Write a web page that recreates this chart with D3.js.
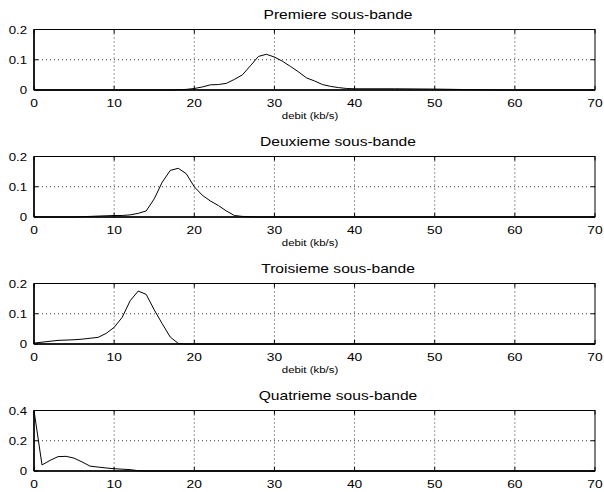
<!DOCTYPE html>
<html>
<head>
<meta charset="utf-8">
<script src="https://cdn.jsdelivr.net/npm/d3@7"></script>
<style>
  body { margin: 0; background: #fff; }
  svg { display: block; font-family: "Liberation Sans", Arial, Helvetica, sans-serif; }
  .grid line { stroke: #000; stroke-width: 0.8; stroke-dasharray: 1 3; }
</style>
</head>
<body>
<div id="chart"></div>
<script>
const titles = ["Premiere sous-bande", "Deuxieme sous-bande", "Troisieme sous-bande", "Quatrieme sous-bande"];
const xLabel = "debit (kb/s)";
const xTicks = [0, 10, 20, 30, 40, 50, 60, 70];
const yMaxes = [0.2, 0.2, 0.2, 0.4];
const yTickSets = [[0, 0.1, 0.2], [0, 0.1, 0.2], [0, 0.1, 0.2], [0, 0.2, 0.4]];

const band1X = [0, 17, 18, 19, 20, 21, 22, 23, 24, 25, 26, 27, 28, 29, 30, 31, 32, 33, 34, 35, 36, 37, 38, 39, 40, 45, 50, 55, 60, 70];
const band1Y = [0, 0, 0.001, 0.002, 0.005, 0.01, 0.017, 0.018, 0.022, 0.035, 0.05, 0.08, 0.111, 0.118, 0.109, 0.095, 0.078, 0.06, 0.04, 0.03, 0.018, 0.012, 0.008, 0.005, 0.004, 0.004, 0.003, 0.001, 0, 0];

const band2X = [0, 5, 6, 7, 8, 9, 10, 11, 12, 13, 14, 15, 16, 17, 18, 19, 20, 21, 22, 23, 24, 25, 26, 27, 28, 70];
const band2Y = [0, 0, 0.001, 0.002, 0.003, 0.004, 0.005, 0.005, 0.007, 0.012, 0.02, 0.06, 0.115, 0.154, 0.161, 0.143, 0.1, 0.072, 0.053, 0.038, 0.02, 0.005, 0.002, 0.001, 0, 0];

const band3X = [0, 1, 2, 3, 4, 5, 6, 7, 8, 9, 10, 11, 12, 13, 14, 15, 16, 17, 18, 19, 70];
const band3Y = [0.003, 0.006, 0.009, 0.012, 0.013, 0.014, 0.016, 0.019, 0.022, 0.035, 0.055, 0.088, 0.143, 0.175, 0.164, 0.113, 0.067, 0.023, 0.002, 0, 0];

const band4X = [0, 1, 2, 3, 4, 5, 6, 7, 8, 9, 10, 11, 12, 13, 14, 70];
const band4Y = [0.4, 0.04, 0.07, 0.095, 0.097, 0.085, 0.06, 0.032, 0.026, 0.02, 0.015, 0.012, 0.009, 0.002, 0, 0];

const bands = [
  { x: band1X, y: band1Y },
  { x: band2X, y: band2Y },
  { x: band3X, y: band3Y },
  { x: band4X, y: band4Y }
];

const width = 604;
const height = 492;
const left = 34;
const right = 595;
const firstTop = 29.5;
const panelStep = 127;
const panelHeight = 60.5;
const tickLen = 4;
// the picture is a bit stretched sideways, text too
const stretch = 1.2;

const svg = d3.select("#chart").append("svg")
  .attr("width", width)
  .attr("height", height);

svg.append("rect")
  .attr("width", width)
  .attr("height", height)
  .attr("fill", "#fff");

const x = d3.scaleLinear().domain([0, 70]).range([left, right]);

function addText(g, px, py, str, size, anchor) {
  return g.append("text")
    .attr("transform", `translate(${px},${py}) scale(${stretch},1)`)
    .attr("text-anchor", anchor)
    .attr("font-size", size)
    .attr("fill", "#000")
    .text(str);
}

bands.forEach((band, i) => {
  const top = firstTop + i * panelStep;
  const bottom = top + panelHeight;
  const y = d3.scaleLinear().domain([0, yMaxes[i]]).range([bottom, top]);
  const yTicks = yTickSets[i];
  const g = svg.append("g");

  // dotted grid
  const grid = g.append("g").attr("class", "grid");
  grid.selectAll(".gx")
    .data(xTicks.slice(1, -1))
    .join("line")
    .attr("x1", d => x(d)).attr("x2", d => x(d))
    .attr("y1", top).attr("y2", bottom);
  grid.selectAll(".gy")
    .data(yTicks.slice(1, -1))
    .join("line")
    .attr("x1", left).attr("x2", right)
    .attr("y1", d => y(d)).attr("y2", d => y(d));

  // data line
  const pts = band.x.map((v, k) => [v, band.y[k]]);
  g.append("path")
    .datum(pts)
    .attr("fill", "none")
    .attr("stroke", "#000")
    .attr("stroke-width", 1)
    .attr("d", d3.line().x(d => x(d[0])).y(d => y(d[1])));

  // box
  g.append("rect")
    .attr("x", left).attr("y", top)
    .attr("width", right - left).attr("height", panelHeight)
    .attr("fill", "none")
    .attr("stroke", "#000")
    .attr("stroke-width", 1);
  g.append("line")
    .attr("x1", left).attr("x2", left)
    .attr("y1", top).attr("y2", bottom)
    .attr("stroke", "#000").attr("stroke-width", 1.5);
  g.append("line")
    .attr("x1", left).attr("x2", right)
    .attr("y1", bottom).attr("y2", bottom)
    .attr("stroke", "#000").attr("stroke-width", 1.5);

  // inward ticks on all sides
  const ticks = g.append("g").attr("stroke", "#000").attr("stroke-width", 1);
  xTicks.forEach(t => {
    ticks.append("line").attr("x1", x(t)).attr("x2", x(t)).attr("y1", bottom).attr("y2", bottom - tickLen);
    ticks.append("line").attr("x1", x(t)).attr("x2", x(t)).attr("y1", top).attr("y2", top + tickLen);
  });
  yTicks.forEach(t => {
    ticks.append("line").attr("x1", left).attr("x2", left + tickLen).attr("y1", y(t)).attr("y2", y(t));
    ticks.append("line").attr("x1", right).attr("x2", right - tickLen).attr("y1", y(t)).attr("y2", y(t));
  });

  // tick labels
  xTicks.forEach(t => addText(g, x(t), bottom + 17, String(t), 11.5, "middle"));
  yTicks.forEach(t => addText(g, 27, y(t) + 4, d3.format("~g")(t), 11, "end"));

  addText(g, 338, top - 11, titles[i], 13, "middle");
  if (i < 3) {
    addText(g, 310, bottom + 29, xLabel, 9.5, "middle");
  }
});
</script>
</body>
</html>
